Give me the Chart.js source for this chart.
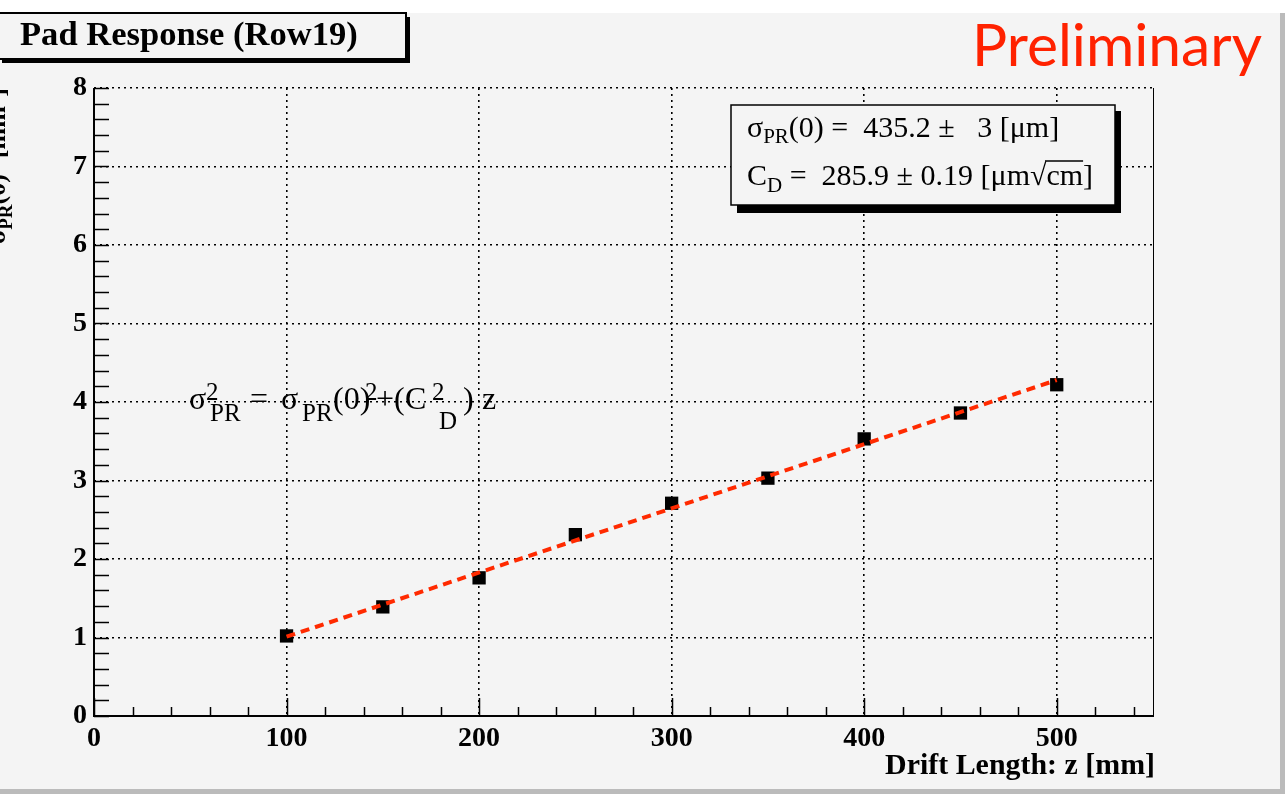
<!DOCTYPE html>
<html>
<head>
<meta charset="utf-8">
<script src="https://cdn.jsdelivr.net/npm/chart.js@4"></script>
<style>body{margin:0;background:#fff;}</style>
</head>
<body>
<canvas id="myChart" width="1285" height="800"></canvas>
<script>
// measured points: sigma_PR^2 [mm^2] vs drift length [mm]
var driftLength = [100, 150, 200, 250, 300, 350, 400, 450, 500];
var sigmaSq = [1.02, 1.39, 1.76, 2.31, 2.71, 3.03, 3.53, 3.86, 4.22];
// fit line end points
var fitX = [100, 500];
var fitY = [1.01, 4.28];
var xTicks = [0, 100, 200, 300, 400, 500];
var yTicks = [0, 1, 2, 3, 4, 5, 6, 7, 8];

var SERIF = '"Liberation Serif", "Times New Roman", serif';

function fnt(size, bold) { return (bold ? 'bold ' : '') + size + 'px ' + SERIF; }

function richWidth(ctx, parts) {
    var w = 0;
    parts.forEach(function (p) {
        ctx.font = p.f;
        if (p.t !== undefined) w += ctx.measureText(p.t).width;
        else w += Math.max(p.sup ? ctx.measureText(p.sup).width : 0, p.sub ? ctx.measureText(p.sub).width : 0);
    });
    return w;
}

// draws a run of text pieces; a piece may carry its own x (at) offset
function drawRich(ctx, x0, y, parts) {
    var x = x0;
    parts.forEach(function (p) {
        ctx.font = p.f;
        if (p.at !== undefined) x = x0 + p.at;
        if (p.t !== undefined) {
            ctx.fillText(p.t, x, y + (p.dy || 0));
            var w = ctx.measureText(p.t).width;
            if (p.over) {
                ctx.lineWidth = 1.5;
                ctx.beginPath();
                ctx.moveTo(x + p.over, y - p.overY);
                ctx.lineTo(x + w, y - p.overY);
                ctx.stroke();
            }
            x += w;
        } else {
            var a = 0, b = 0;
            if (p.sup) { ctx.fillText(p.sup, x, y + p.supDy); a = ctx.measureText(p.sup).width; }
            if (p.sub) { ctx.fillText(p.sub, x + (p.subDx || 0), y + p.subDy); b = ctx.measureText(p.sub).width; }
            x += Math.max(a, b);
        }
    });
}

function fitFont(ctx, text, tmpl, target) {
    ctx.font = tmpl(100);
    return tmpl(100 * target / ctx.measureText(text).width);
}

var decor = {
    id: 'decor',
    beforeDraw: function (chart) {
        var ctx = chart.ctx;
        ctx.save();
        ctx.fillStyle = '#ffffff';
        ctx.fillRect(0, 0, 1285, 800);
        ctx.fillStyle = '#bbbbbb';
        ctx.fillRect(0, 13, 1285, 781);
        ctx.fillStyle = '#f4f4f4';
        ctx.fillRect(0, 13, 1280, 776);
        ctx.restore();
    },
    afterDraw: function (chart) {
        var ctx = chart.ctx;
        var xs = chart.scales.x, ys = chart.scales.y;
        var a = chart.chartArea;
        ctx.save();
        ctx.strokeStyle = '#000';
        ctx.fillStyle = '#000';

        // frame
        ctx.lineWidth = 1;
        ctx.beginPath();
        ctx.moveTo(a.right + 0.5, a.top);
        ctx.lineTo(a.right + 0.5, a.bottom);
        ctx.stroke();
        ctx.lineWidth = 2;
        ctx.beginPath();
        ctx.moveTo(a.left, a.top);
        ctx.lineTo(a.left, a.bottom);
        ctx.lineTo(a.right + 1, a.bottom);
        ctx.stroke();

        // tick marks drawn inside the frame
        ctx.lineWidth = 1.5;
        var v, p;
        for (v = 0; v <= 8.001; v += 0.2) {
            p = Math.round(ys.getPixelForValue(v)) + 0.5;
            ctx.beginPath();
            ctx.moveTo(a.left, p);
            ctx.lineTo(a.left + 15, p);
            ctx.stroke();
        }
        for (v = 0; v <= 540; v += 20) {
            p = Math.round(xs.getPixelForValue(v)) + 0.5;
            ctx.beginPath();
            ctx.moveTo(p, a.bottom);
            ctx.lineTo(p, a.bottom - (v % 100 === 0 ? 18 : 9));
            ctx.stroke();
        }

        ctx.textAlign = 'left';
        ctx.textBaseline = 'alphabetic';

        // title box
        ctx.fillStyle = '#000';
        ctx.fillRect(2, 17, 408, 46);
        ctx.fillStyle = '#f4f4f4';
        ctx.fillRect(-2, 13, 408, 46);
        ctx.lineWidth = 2;
        ctx.strokeRect(-2, 13, 408, 46);
        ctx.fillStyle = '#000';
        ctx.font = fitFont(ctx, 'Pad Response (Row19)', function (s) { return fnt(s, true); }, 338);
        ctx.fillText('Pad Response (Row19)', 20, 45);

        // Preliminary
        ctx.fillStyle = '#ff2200';
        ctx.font = fitFont(ctx, 'Preliminary', function (s) { return s + 'px Lato, "Open Sans", sans-serif'; }, 290);
        ctx.fillText('Preliminary', 972, 66);

        // stats box
        ctx.fillStyle = '#000';
        ctx.fillRect(737, 111, 384, 102);
        ctx.fillStyle = '#f4f4f4';
        ctx.fillRect(731, 105, 384, 100);
        ctx.lineWidth = 1.5;
        ctx.strokeRect(731, 105, 384, 100);
        ctx.fillStyle = '#000';
        var big = fnt(30), small = fnt(21);
        drawRich(ctx, 747, 137, [
            { t: '\u03c3', f: big },
            { t: 'PR', f: small, dy: 6 },
            { t: '(0) =  435.2 \u00b1   3 [\u03bcm]', f: big }
        ]);
        drawRich(ctx, 747, 185, [
            { t: 'C', f: big },
            { t: 'D', f: small, dy: 7 },
            { t: ' =  285.9 \u00b1 0.19 [\u03bcm', f: big },
            { t: '\u221acm', f: big, over: 15, overY: 24 },
            { t: ']', f: big }
        ]);

        // fit formula
        var m = fnt(32), s2 = fnt(25);
        drawRich(ctx, 189, 409, [
            { t: '\u03c3', f: m, at: 0 },
            { sup: '2', sub: 'PR', f: s2, supDy: -9, subDy: 12, subDx: 4, at: 17 },
            { t: '=', f: m, at: 61 },
            { t: '\u03c3', f: m, at: 92 },
            { t: 'PR', f: s2, dy: 12, at: 113 },
            { t: '(0)', f: m, at: 144 },
            { t: '2', f: s2, dy: -9, at: 176 },
            { t: '+(', f: m, at: 187 },
            { t: 'C', f: m, at: 216 },
            { sup: '2', sub: 'D', f: s2, supDy: -9, subDy: 20, subDx: 7, at: 243 },
            { t: ')', f: m, at: 274 },
            { t: 'z', f: m, at: 293 }
        ]);

        // x axis title
        ctx.font = fitFont(ctx, 'Drift Length: z [mm]', function (s) { return fnt(s, true); }, 270);
        ctx.textAlign = 'right';
        ctx.fillText('Drift Length: z [mm]', a.right + 2, 774);

        // y axis title (partly outside the canvas)
        ctx.textAlign = 'left';
        ctx.translate(5, a.top);
        ctx.rotate(-Math.PI / 2);
        var yb = fnt(26, true), ys2 = fnt(19, true);
        var yParts = [
            { t: '\u03c3', f: yb },
            { t: 'PR', f: ys2, dy: 7 },
            { t: '(0)', f: yb },
            { t: '2', f: ys2, dy: -11 },
            { t: ' [mm', f: yb },
            { t: '2', f: ys2, dy: -11 },
            { t: ']', f: yb }
        ];
        drawRich(ctx, -richWidth(ctx, yParts), 0, yParts);
        ctx.restore();
    }
};

var tickFont = { family: 'Liberation Serif', size: 28, weight: 'bold' };

var ctx = document.getElementById('myChart').getContext('2d');
var chart = new Chart(ctx, {
    type: 'scatter',
    data: {
        datasets: [{
            // fit line, drawn on top of the markers
            data: fitX.map(function (x, i) { return { x: x, y: fitY[i] }; }),
            showLine: true,
            borderColor: '#ff2a00',
            borderWidth: 4,
            borderDash: [9, 6],
            pointRadius: 0
        }, {
            data: driftLength.map(function (x, i) { return { x: x, y: sigmaSq[i] }; }),
            showLine: false,
            pointStyle: 'rect',
            pointRadius: 9.4,
            backgroundColor: '#000',
            borderColor: '#000',
            borderWidth: 0
        }]
    },
    options: {
        responsive: false,
        animation: false,
        layout: { padding: { top: 88, right: 132, left: 0, bottom: 0 } },
        plugins: { legend: { display: false }, tooltip: { enabled: false } },
        scales: {
            x: {
                type: 'linear', min: 0, max: 550,
                afterBuildTicks: function (s) { s.ticks = xTicks.map(function (v) { return { value: v }; }); },
                afterFit: function (s) { s.height = 84; },
                grid: { color: '#000', lineWidth: 1.6, drawTicks: false },
                border: { display: false, dash: [2, 4] },
                ticks: { font: tickFont, color: '#000', padding: 6, maxRotation: 0 }
            },
            y: {
                min: 0, max: 8,
                afterBuildTicks: function (s) { s.ticks = yTicks.map(function (v) { return { value: v }; }); },
                afterFit: function (s) { s.width = 94; },
                grid: { color: '#000', lineWidth: 1.6, drawTicks: false },
                border: { display: false, dash: [2, 4] },
                ticks: { font: tickFont, color: '#000', padding: 7 }
            }
        }
    },
    plugins: [decor]
});
</script>
</body>
</html>
